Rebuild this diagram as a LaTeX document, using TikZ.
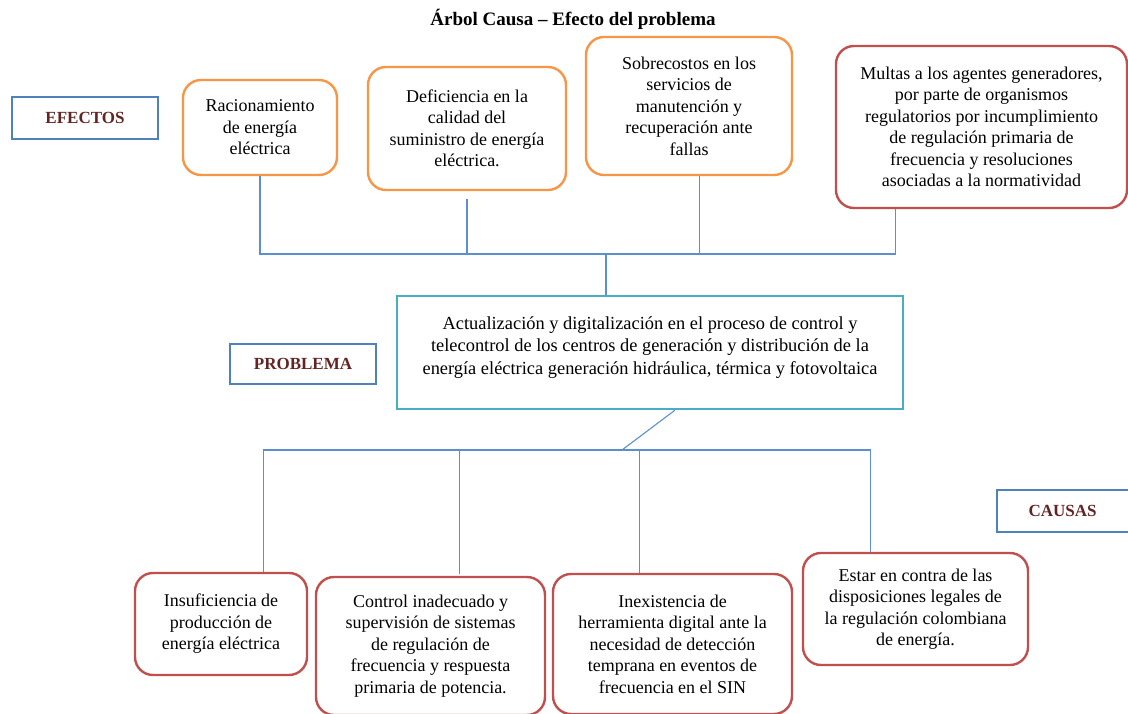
\documentclass[tikz,border=0pt]{standalone}
\usepackage{fontspec}
\setmainfont{Liberation Serif}
\usetikzlibrary{calc}
\definecolor{lblue}{HTML}{4F81BD}
\definecolor{lorange}{HTML}{F79646}
\definecolor{lred}{HTML}{C0504D}
\definecolor{lteal}{HTML}{4BACC6}
\definecolor{ldark}{HTML}{632523}
\definecolor{lline}{HTML}{5B8FD0}
\tikzset{
  box/.style={rectangle, rounded corners=18pt, line width=2.4pt, fill=white, align=center, inner sep=0pt,
    font=\fontsize{18}{21.5}\selectfont},
  effbox/.style={box, draw=lorange},
  redbox/.style={box, draw=lred},
  probbox/.style={rectangle, draw=lteal, line width=2.4pt, inner sep=0pt},
  probtext/.style={align=center, inner sep=0pt, font=\fontsize{18.4}{22.5}\selectfont},
  lblbox/.style={rectangle, draw=lblue, line width=2pt, inner sep=0pt, text=ldark,
    font=\fontsize{17}{20}\selectfont\bfseries},
  conn/.style={draw=lline, line width=1.1pt}
}
\begin{document}
\begin{tikzpicture}[x=1pt,y=1pt]
\clip (0,0) rectangle (1128,-714);
% title
\node[font=\fontsize{19}{22}\selectfont\bfseries] (title) at (573,-19) {Árbol Causa – Efecto del problema};
% labels
\node[lblbox, minimum width=146pt, minimum height=42pt] (lef) at (85,-118) {EFECTOS};
\node[lblbox, minimum width=146pt, minimum height=40pt] (lpr) at (303,-364) {PROBLEMA};
\node[lblbox, minimum width=143pt, minimum height=42pt] (lca) at (1068.5,-511) {\hspace*{-12pt}CAUSAS};
% effects
\node[effbox, minimum width=154pt, minimum height=95pt] (e1) at (260,-127.5) {Racionamiento\\de energía\\eléctrica};
\node[effbox, minimum width=198pt, minimum height=123pt] (e2) at (467,-128.5) {Deficiencia en la\\calidad del\\suministro de energía\\eléctrica.};
\node[effbox, minimum width=206pt, minimum height=138pt] (e3) at (689,-106) {Sobrecostos en los\\servicios de\\manutención y\\recuperación ante\\fallas};
\node[redbox, minimum width=291pt, minimum height=162pt] (e4) at (981.5,-127) {Multas a los agentes generadores,\\por parte de organismos\\regulatorios por incumplimiento\\de regulación primaria de\\frecuencia y resoluciones\\asociadas a la normatividad};
% problem
\node[probbox, minimum width=506pt, minimum height=113pt] (prob) at (650,-352.5) {};
\node[probtext] (probt) at ($(prob.center)+(0,5)$) {Actualización y digitalización en el proceso de control y\\telecontrol de los centros de generación y distribución de la\\energía eléctrica generación hidráulica, térmica y fotovoltaica};
% causes
\node[redbox, minimum width=172pt, minimum height=102pt] (c1) at (221,-624) {Insuficiencia de\\producción de\\energía eléctrica};
\node[redbox, minimum width=229pt, minimum height=138pt] (c2) at (430.5,-646) {Control inadecuado y\\supervisión de sistemas\\de regulación de\\frecuencia y respuesta\\primaria de potencia.};
\node[redbox, minimum width=239pt, minimum height=140pt] (c3) at (672.5,-644) {Inexistencia de\\herramienta digital ante la\\necesidad de detección\\temprana en eventos de\\frecuencia en el SIN};
\node[redbox, minimum width=225pt, minimum height=112pt] (c4) at (915.5,-609) {Estar en contra de las\\disposiciones legales de\\la regulación colombiana\\de energía.};
% junctions
\coordinate (hE) at (606,-254);
\coordinate (hC) at (622,-450);
% effect connectors
\draw[conn] (e1.south) |- (hE);
\draw[conn, shorten <=8pt] (e2.south) |- (hE);
\draw[conn] ($(e3.south west)!0.549!(e3.south east)$) |- (hE);
\draw[conn] ($(e4.south west)!0.206!(e4.south east)$) |- (hE);
\draw[conn] (hE) -- (hE |- prob.north);
% problem to causes
\draw[conn] ($(prob.south west)!0.549!(prob.south east)$) -- (hC);
\draw[conn] ($(c1.north west)!0.744!(c1.north east)$) |- (hC);
\draw[conn, shorten <=2pt] ($(c2.north west)!0.624!(c2.north east)$) |- (hC);
\draw[conn] ($(c3.north west)!0.364!(c3.north east)$) |- (hC);
\draw[conn] ($(c4.north west)!0.302!(c4.north east)$) |- (hC);
\end{tikzpicture}
\end{document}
